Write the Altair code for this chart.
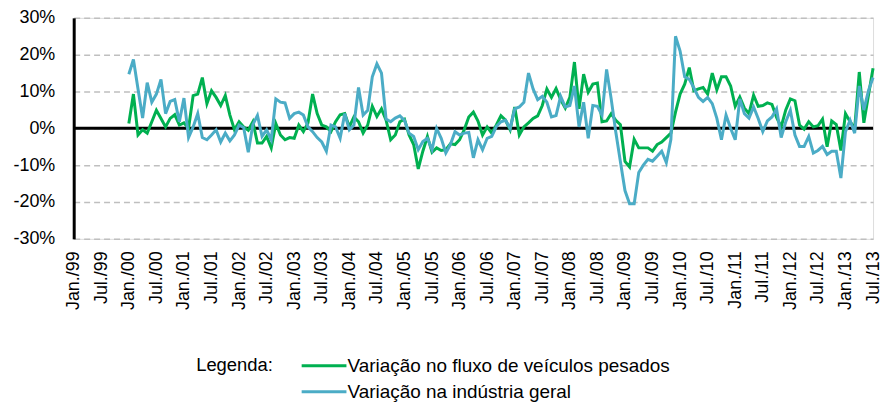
import altair as alt
import pandas as pd

# Month index: 0 = Jan./99 ... 174 = Jul./13 ; series start at Jan./00 (index 12)
month_index = list(range(12, 175))

x_labels = ["Jan./99", "Jul./99", "Jan./00", "Jul./00", "Jan./01", "Jul./01",
            "Jan./02", "Jul./02", "Jan./03", "Jul./03", "Jan./04", "Jul./04",
            "Jan./05", "Jul./05", "Jan./06", "Jul./06", "Jan./07", "Jul./07",
            "Jan./08", "Jul./08", "Jan./09", "Jul./09", "Jan./10", "Jul./10",
            "Jan./11", "Jul./11", "Jan./12", "Jul./12", "Jan./13", "Jul./13"]
x_tick_values = list(range(0, 175, 6))

y_tick_values = [-30, -20, -10, 0, 10, 20, 30]

series_names = ["Variação no fluxo de veículos pesados", "Variação na indústria geral"]
series_colors = ["#00B050", "#4BACC6"]

pesados = [
    1.3, 9.3, -1.8, -0.4, -1.3, 1.8, 4.9, 2.7, 0.4, 2.7, 3.7, 0.9,          # 2000
    1.5, 0.0, 8.9, 9.3, 13.8, 6.7, 10.2, 8.4, 6.2, 8.9, 3.6, -0.4,          # 2001
    1.8, 0.4, -0.5, 1.8, -4.0, -4.0, -2.2, -5.3, 1.3, -1.8, -3.1, -2.5,     # 2002
    -2.7, 0.9, -0.9, 1.5, 9.3, 4.0, 0.9, 0.4, -0.9, 1.8, 3.7, 4.0,          # 2003
    0.4, 3.1, 1.8, -1.3, 0.9, 6.0, 3.2, 5.3, 2.2, -3.1, -1.8, 1.8,          # 2004
    2.5, -1.8, -4.4, -11.0, -6.2, -2.2, -6.5, -5.3, -6.0, -5.8, -4.2, -4.4, # 2005
    -3.1, -0.4, 3.1, 4.4, 2.0, -1.8, 0.4, -1.3, 0.9, 3.4, 2.2, -0.4,        # 2006
    5.8, -1.8, 0.4, 1.5, 2.7, 3.4, 6.2, 10.7, 8.4, 10.8, 7.8, 5.5,          # 2007
    8.4, 18.0, 5.3, 14.7, 9.8, 12.0, 12.3, 1.8, 2.0, 4.0, 2.2, 1.0,         # 2008
    -9.0, -10.5, -3.0, -5.3, -5.3, -5.3, -6.2, -4.4, -3.7, -2.5, -1.3, 4.4, # 2009
    9.3, 12.0, 16.5, 10.2, 10.7, 11.1, 9.3, 15.0, 10.5, 14.0, 14.0, 11.5,   # 2010
    6.0, 8.5, 5.5, 4.0, 9.0, 6.0, 6.2, 6.9, 6.5, 3.0, 0.4, 5.0,             # 2011
    8.0, 7.5, 0.9, -0.2, 1.8, 0.4, 0.7, 2.5, -5.0, 2.0, 1.0, -6.0,          # 2012
    4.0, 1.8, 0.0, 15.3, 1.5, 9.0, 16.3,                                    # 2013
]

industria = [
    14.7, 18.7, 10.7, 2.8, 12.4, 7.1, 9.3, 13.3, 4.0, 7.3, 7.8, 1.8,        # 2000
    8.2, -2.5, 0.4, 4.0, -2.5, -3.1, -1.8, -0.4, -3.7, -1.3, -3.4, -1.8,    # 2001
    0.9, 0.2, -6.5, 1.0, 3.5, -2.2, -0.4, -3.1, 8.0, 7.1, 6.9, 2.7,         # 2002
    4.0, 4.4, 3.6, 0.4, -0.9, -2.5, -3.7, -6.2, 0.9, 0.4, -2.7, 4.0,        # 2003
    -0.4, 0.9, 11.1, 3.6, 4.9, 14.0, 17.5, 15.0, 2.5, 1.8, 2.8, 3.4,        # 2004
    2.2, -1.3, -2.2, -5.8, -3.6, -2.7, -5.8, 0.0, -2.7, -6.7, -4.4, -0.9,   # 2005
    -1.8, -1.3, -1.1, -8.0, -3.1, -5.8, -2.7, -2.2, 0.5, 1.8, 2.2, 0.0,     # 2006
    5.3, 5.8, 7.1, 15.0, 10.7, 7.8, 8.7, 7.1, 3.1, 3.5, 8.7, 5.8,           # 2007
    6.2, 11.5, 0.4, 7.1, -2.7, 6.2, 6.0, 3.6, 16.0, 8.0, -1.0, -9.0,        # 2008
    -16.9, -20.5, -20.5, -12.0, -10.0, -8.4, -8.9, -7.6, -6.2, -9.3, -3.0, 25.0,  # 2009
    21.0, 14.0, 13.3, 11.0, 8.4, 7.3, 8.4, 6.7, 2.7, -3.1, 3.6, 0.0,        # 2010
    -3.1, 8.0, 4.0, 2.8, 5.8, 2.7, -0.9, 2.0, 3.1, 5.3, -2.5, 1.8,          # 2011
    4.9, -1.8, -4.9, -4.9, -2.2, -6.7, -6.0, -4.9, -7.1, -6.2, -6.2, -13.5, # 2012
    -0.9, 2.2, -1.3, 11.5, 5.0, 10.2, 13.8,                                 # 2013
]

rows = []
for name, vals in zip(series_names, [pesados, industria]):
    for m, v in zip(month_index, vals):
        rows.append({"mes": m, "valor": v, "serie": name})
df = pd.DataFrame(rows)

FONT = "Liberation Sans"
label_array = "[" + ",".join("'" + s + "'" for s in x_labels) + "]"

y_scale = alt.Scale(domain=[-30, 30], nice=False)
y_axis = alt.Axis(
    values=y_tick_values,
    labelExpr="datum.value + '%'",
    labelFontSize=18,
    labelFont=FONT,
    labelColor="black",
    labelPadding=19,
    labelOverlap=False,
    labelFlush=False,
    ticks=False,
    domainColor="black",
    domainWidth=3,
    grid=True,
    gridColor="#BFBFBF",
    gridDash=[6, 4],
    gridWidth=1.5,
)

zero = alt.Chart(pd.DataFrame({"y": [0]})).mark_rule(color="black", strokeWidth=3).encode(
    y=alt.Y("y:Q", scale=y_scale, axis=y_axis, title=None)
)

lines = alt.Chart(df).mark_line(strokeWidth=3).encode(
    x=alt.X(
        "mes:Q",
        scale=alt.Scale(domain=[0, 174], nice=False, zero=False),
        axis=alt.Axis(
            values=x_tick_values,
            labelExpr=label_array + "[round(datum.value / 6)]",
            labelAngle=-90,
            labelFontSize=18,
            labelFont=FONT,
            labelColor="black",
            labelPadding=12,
            ticks=False,
            domain=False,
            grid=False,
            labelOverlap=False,
        ),
        title=None,
    ),
    y=alt.Y("valor:Q", scale=y_scale, axis=y_axis, title=None),
    color=alt.Color(
        "serie:N",
        scale=alt.Scale(domain=series_names, range=series_colors),
        sort=series_names,
        legend=alt.Legend(
            title="Legenda:",
            orient="none",
            legendX=123,
            legendY=340,
            direction="vertical",
            titleOrient="left",
            titleAnchor="start",
            titleBaseline="top",
            titleFontSize=18.5,
            titleFontWeight="normal",
            titleFont=FONT,
            titleColor="black",
            titlePadding=41,
            labelFontSize=19,
            labelFont=FONT,
            labelColor="black",
            labelOffset=14,
            labelLimit=0,
            rowPadding=6,
            symbolType="M-4.5,0H4.5",
            symbolStrokeWidth=3,
            symbolSize=100,
        ),
    ),
)

chart = alt.layer(zero, lines).properties(
    width=803,
    height=222,
    padding={"left": 66, "top": 9, "right": 10, "bottom": 164},
    autosize="none",
).configure_view(stroke=None).configure(font=FONT)

chart.save("out.html", embed_options={"renderer": "svg", "actions": False})
